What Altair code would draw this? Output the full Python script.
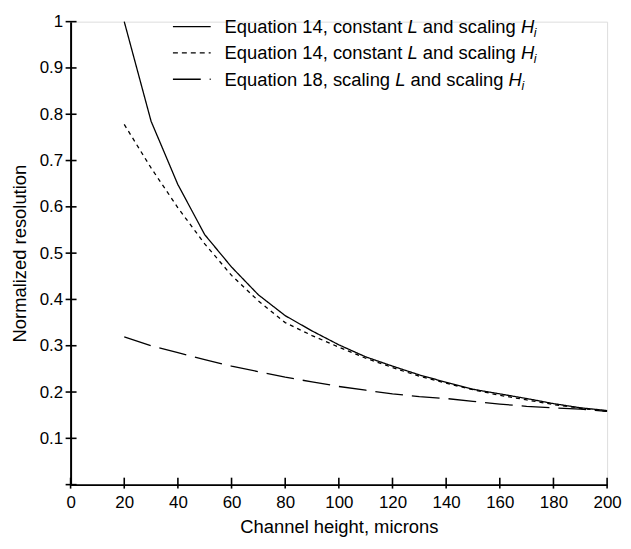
import altair as alt
import pandas as pd

# ---- data ----
channel_height = [20, 30, 40, 50, 60, 70, 80, 90, 100, 110, 120, 130, 140, 150, 160, 170, 180, 190, 200]
eq14_solid = [1.0, 0.785, 0.648, 0.54, 0.47, 0.41, 0.365, 0.332, 0.302, 0.276, 0.256, 0.237, 0.221, 0.206, 0.196, 0.186, 0.175, 0.166, 0.16]
eq14_dotted = [0.778, 0.684, 0.598, 0.52, 0.452, 0.397, 0.35, 0.322, 0.297, 0.273, 0.253, 0.234, 0.219, 0.205, 0.193, 0.183, 0.173, 0.165, 0.158]
eq18_dashed = [0.319, 0.300, 0.285, 0.270, 0.256, 0.244, 0.232, 0.222, 0.212, 0.204, 0.196, 0.190, 0.186, 0.180, 0.174, 0.169, 0.166, 0.163, 0.158]

x_ticks = [0, 20, 40, 60, 80, 100, 120, 140, 160, 180, 200]
y_ticks = [0, 0.1, 0.2, 0.3, 0.4, 0.5, 0.6, 0.7, 0.8, 0.9, 1.0]
y_labels = [0.1, 0.2, 0.3, 0.4, 0.5, 0.6, 0.7, 0.8, 0.9, 1.0]

legend_rows = [
    ["Equation 14, constant ", "L", " and scaling ", "H", "i"],
    ["Equation 14, constant ", "L", " and scaling ", "H", "i"],
    ["Equation 18, scaling ", "L", " and scaling ", "H", "i"],
]

# ---- layout ----
W, H = 540, 466
FONT = "Liberation Sans"
xs = alt.Scale(domain=[0, 200], nice=False, zero=False)
ys = alt.Scale(domain=[0, 1], nice=False, zero=False)

x_axis = alt.Axis(values=x_ticks, ticks=False, grid=False, domain=True,
                  domainColor="black", domainWidth=2, labelFont=FONT,
                  labelFontSize=17, labelColor="black", labelPadding=10,
                  labelFlush=False,
                  title="Channel height, microns", titleFont=FONT,
                  titleFontSize=18.5, titleFontWeight="normal",
                  titleColor="black", titlePadding=7)
y_axis = alt.Axis(values=y_labels, format="~g", ticks=False, grid=False,
                  domain=True, domainColor="black", domainWidth=2,
                  labelFont=FONT, labelFontSize=17, labelColor="black",
                  labelPadding=8, labelFlush=False,
                  title="Normalized resolution", titleFont=FONT,
                  titleFontSize=18.5, titleFontWeight="normal",
                  titleColor="black", titlePadding=10)

# Arial/Liberation Sans advance widths (per 1000 em)
CW = {'E': 667, 'q': 556, 'u': 556, 'a': 556, 't': 278, 'i': 222, 'o': 556, 'n': 556, ' ': 278,
      '1': 556, '4': 556, '8': 556, ',': 278, 'c': 500, 's': 500, 'L': 556, 'd': 556, 'l': 222,
      'g': 556, 'H': 722}


def tw(s, size):
    return sum(CW.get(ch, 556) for ch in s) * size / 1000.0


def curve(values, dash):
    df = pd.DataFrame({"h": channel_height, "r": values})
    return alt.Chart(df).mark_line(color="black", strokeWidth=1.3, strokeDash=dash).encode(
        x=alt.X("h:Q", scale=xs, axis=x_axis),
        y=alt.Y("r:Q", scale=ys, axis=y_axis),
    )


x_tick_marks = alt.Chart(pd.DataFrame({"h": x_ticks})).mark_rule(color="black", strokeWidth=1.6).encode(
    x=alt.X("h:Q", scale=xs, axis=x_axis), y=alt.value(H - 7), y2=alt.value(H + 4))
y_tick_marks = alt.Chart(pd.DataFrame({"r": y_ticks})).mark_rule(color="black", strokeWidth=1.6).encode(
    y=alt.Y("r:Q", scale=ys, axis=y_axis), x=alt.value(-5), x2=alt.value(6))

layers = [curve(eq14_solid, [1, 0]), curve(eq14_dotted, [4, 4]), curve(eq18_dashed, [28, 9]),
          x_tick_marks, y_tick_marks]

# ---- legend ----
dashes = [[1, 0], [5, 4], [28, 9]]
row_mid = [5, 31.5, 58]
LX0, LX1, TX = 103, 141, 155
FS, SUB = 18.5, 12.5
dummy = pd.DataFrame({"k": [0]})
for i, segs in enumerate(legend_rows):
    layers.append(alt.Chart(dummy).mark_rule(color="black", strokeWidth=1.3, strokeDash=dashes[i]).encode(
        x=alt.value(LX0), x2=alt.value(LX1), y=alt.value(row_mid[i])))
    base_y = row_mid[i] + 6.5
    xpos = TX
    for j, seg in enumerate(segs):
        italic = j in (1, 3, 4)
        size = SUB if j == 4 else FS
        lead = len(seg) - len(seg.lstrip(" "))
        x0 = xpos + tw(" " * lead, size)
        y0 = base_y + (4 if j == 4 else 0)
        layers.append(alt.Chart(pd.DataFrame({"t": [seg.strip()]})).mark_text(
            align="left", baseline="alphabetic", font=FONT, fontSize=size, color="black",
            fontStyle="italic" if italic else "normal").encode(
            text="t:N", x=alt.value(x0 - (0.5 if j == 4 else 0)), y=alt.value(y0)))
        xpos += tw(seg, size)

chart = alt.layer(*layers).properties(
    width=W, height=H,
    padding={"left": 63, "top": 12, "right": 16, "bottom": 55},
    autosize=alt.AutoSizeParams(type="none"),
).configure_view(stroke=None).configure(background="white")

chart.save("out.html", embed_options={"renderer": "svg", "actions": False})
